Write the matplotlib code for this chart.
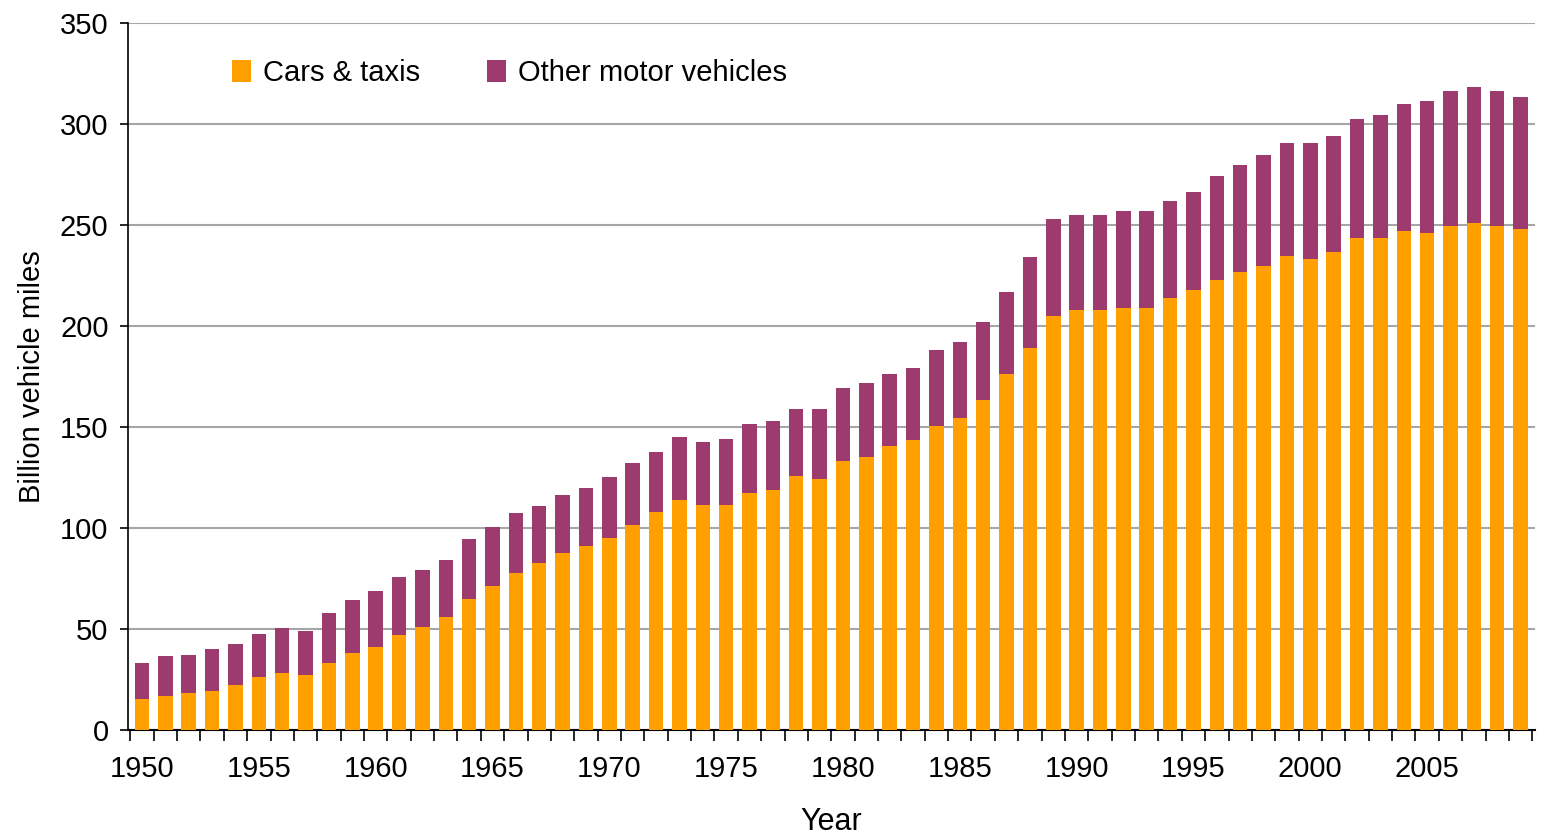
import numpy as np
import matplotlib
matplotlib.use("Agg")
from matplotlib import pyplot as plt
from matplotlib.ticker import FixedLocator

plt.rcParams["font.family"] = ["Liberation Sans", "DejaVu Sans"]

years = list(range(1950, 2010))

# billion vehicle miles
cars_taxis = [
    15.5, 17, 18.5, 19.5, 22, 26, 28, 27, 33, 38,
    41, 47, 51, 56, 65, 71.5, 77.5, 82.5, 87.5, 91,
    95, 101.5, 108, 114, 111.5, 111.5, 117.5, 119, 125.5, 124,
    133, 135, 140.5, 143.5, 150.5, 154.5, 163.5, 176, 189, 205,
    208, 208, 209, 209, 214, 217.7, 222.9, 226.6, 229.7, 234.7,
    233.4, 236.8, 243.6, 243.6, 247.1, 245.8, 249.5, 250.8, 249.5, 248.2,
]
totals = [
    33, 36.5, 37, 40, 42.5, 47.5, 50.5, 49, 58, 64.5,
    69, 75.5, 79, 84, 94.5, 100.5, 107.5, 111, 116.5, 120,
    125, 132, 137.5, 145, 142.5, 144, 151.5, 153, 159, 159,
    169.5, 172, 176, 179, 188, 192, 202, 217, 234, 253,
    255, 255, 257, 257, 262, 266.4, 274.3, 279.5, 284.7, 290.6,
    290.6, 294, 302.3, 304.5, 309.7, 311.2, 316.2, 318.4, 316.2, 313.2,
]
other_vehicles = [t - c for t, c in zip(totals, cars_taxis)]

fig = plt.figure(figsize=(15.42, 8.39), dpi=100)
ax = fig.add_axes([0.083, 0.130, 0.9125, 0.8426])

ax.bar(years, cars_taxis, width=0.62, color="#FFA000", label="Cars & taxis", zorder=3)
ax.bar(years, other_vehicles, width=0.62, bottom=cars_taxis, color="#9E3B6E",
       label="Other motor vehicles", zorder=3)

ax.set_xlim(1949.4, 2009.62)
ax.set_ylim(0, 350)
ax.set_yticks(range(0, 351, 50))
ax.yaxis.grid(True, color="#a6a6a6", linewidth=1.5, zorder=0)

ax.set_xticks(range(1950, 2010, 5))
ax.tick_params(axis="x", which="major", length=0, labelsize=21, pad=18)
ax.xaxis.set_minor_locator(FixedLocator(np.arange(1949.5, 2010, 1)))
ax.tick_params(axis="x", which="minor", length=8, width=1.2, direction="out")
ax.tick_params(axis="y", length=6, width=1.2, labelsize=21, pad=8)

for s in ["top", "right"]:
    ax.spines[s].set_visible(False)
ax.spines["left"].set_linewidth(1.2)
ax.spines["bottom"].set_linewidth(1.5)

ax.set_ylabel("Billion vehicle miles", fontsize=21, labelpad=10)
ax.set_xlabel("Year", fontsize=22, labelpad=17)

ax.legend(loc="center left", bbox_to_anchor=(0.074, 0.929), ncol=2, frameon=False,
          fontsize=21, handlelength=0.65, handleheight=0.8, handletextpad=0.4,
          columnspacing=2.3, borderpad=0, borderaxespad=0)

fig.savefig("out.png", dpi=100)
